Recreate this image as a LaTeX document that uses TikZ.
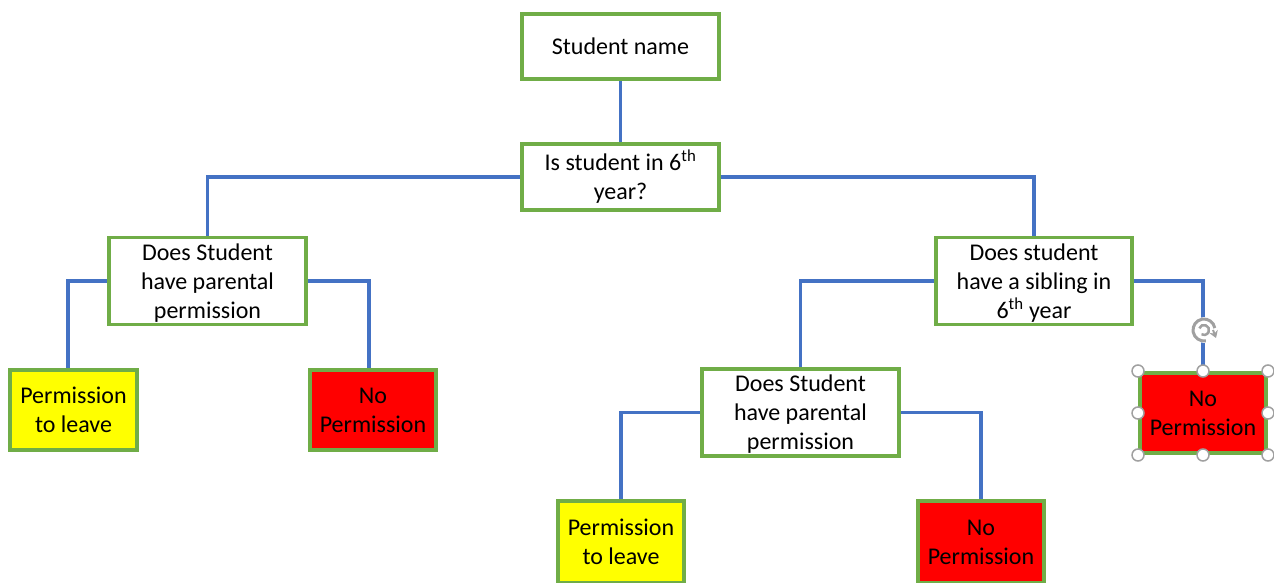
\documentclass[tikz,border=0pt]{standalone}
\usepackage{fontspec}
\setmainfont{Carlito}
\usetikzlibrary{arrows.meta}
\definecolor{bgreen}{HTML}{70AD47}
\definecolor{cblue}{HTML}{4472C4}
\definecolor{pyellow}{HTML}{FFFF00}
\definecolor{nred}{HTML}{FF0000}
\definecolor{hgray}{HTML}{A0A0A0}
\newcommand{\boxtext}[1]{\raisebox{-2.5pt}[\height][\depth]{\begin{tabular}{@{}c@{}}#1\end{tabular}}}
\tikzset{
  box/.style={draw=bgreen, line width=3.6pt, fill=white, inner sep=0pt,
    font=\fontsize{24}{29}\selectfont},
  yesbox/.style={box, fill=pyellow},
  nobox/.style={box, fill=nred},
  conn/.style={draw=cblue, line width=3.6pt},
  handle/.style={circle, draw=hgray, fill=white, line width=1.5pt, minimum size=12pt, inner sep=0pt}
}
\begin{document}
\begin{tikzpicture}[x=1pt,y=-1pt]
\useasboundingbox[fill=white] (0,0) rectangle (1274,583);
% boxes
\node[box, minimum width=197.4pt, minimum height=65.4pt] (name) at (620.5,46.5) {\boxtext{Student name}};
\node[box, minimum width=197.4pt, minimum height=66.4pt] (q1) at (620.5,177) {\boxtext{Is student in 6\textsuperscript{th}\\year?}};
\node[box, minimum width=197.4pt, minimum height=82.4pt] (q2) at (207.5,281) {\boxtext{Does Student\\have parental\\permission}};
\node[box, minimum width=196.4pt, minimum height=82.4pt] (q3) at (1034,281) {\boxtext{Does student\\have a sibling in\\6\textsuperscript{th} year}};
\node[yesbox, minimum width=127.4pt, minimum height=80.4pt] (y1) at (73.5,410) {\boxtext{Permission\\to leave}};
\node[nobox, minimum width=126.4pt, minimum height=80.4pt] (n1) at (373,410) {\boxtext{No\\Permission}};
\node[box, minimum width=197.4pt, minimum height=81.4pt] (q4) at (800.5,412.5) {\boxtext{Does Student\\have parental\\permission}};
\node[nobox, minimum width=126.4pt, minimum height=80.4pt] (n2) at (1203,413) {\boxtext{No\\Permission}};
\node[yesbox, minimum width=126.4pt, minimum height=82.4pt] (y2) at (621,542) {\boxtext{Permission\\to leave}};
\node[nobox, minimum width=126.4pt, minimum height=82.4pt] (n3) at (981,542) {\boxtext{No\\Permission}};
% connectors
\draw[conn] (name.south) -- (q1.north);
\draw[conn] (q1.west) -| (q2.north);
\draw[conn] (q1.east) -| (q3.north);
\draw[conn] (q2.west) -| ([xshift=-5.5pt]y1.north);
\draw[conn] (q2.east) -| ([xshift=-4pt]n1.north);
\draw[conn] (q3.west) -| (q4.north);
\draw[conn] (q3.east) -| (n2.north);
\draw[conn] (q4.west) -| (y2.north);
\draw[conn] (q4.east) -| (n3.north);
% selection handles
\foreach \p in {(1138,371),(1203,371),(1268,371),(1138,413),(1268,413),(1138,455),(1203,455),(1268,455)}
  \node[handle] at \p {};
% rotation handle
\fill[white] (1204,330) circle (13pt);
\draw[hgray, line width=3pt] (1204,330) ++(80:11) arc[start angle=80, end angle=350, radius=11];
\draw[hgray, line width=2.5pt] (1204,330) ++(200:5) arc[start angle=200, end angle=480, radius=5];
\draw[hgray, line width=2pt, -{Stealth[length=7pt,width=9pt]}] (1213,330) -- (1216,338);
\end{tikzpicture}
\end{document}
